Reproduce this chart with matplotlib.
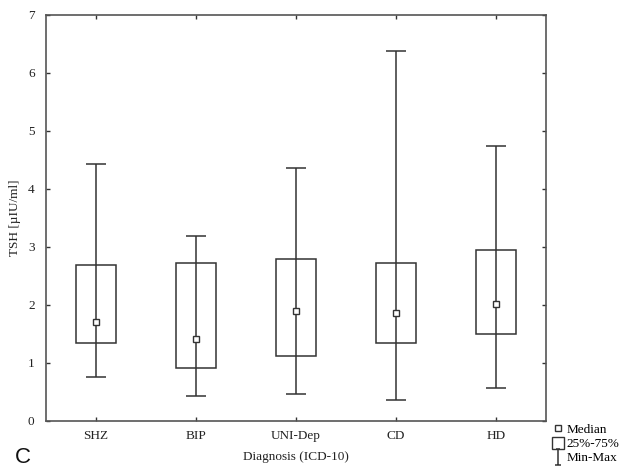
import numpy as np
import matplotlib
matplotlib.use("Agg")
import matplotlib.pyplot as plt
from matplotlib.lines import Line2D
from matplotlib.path import Path

# ---------------------------------------------------------------------------
# Data
# ---------------------------------------------------------------------------
groups = ["SHZ", "BIP", "UNI-Dep", "CD", "HD"]
tsh_min = [0.75, 0.42, 0.46, 0.35, 0.56]
tsh_q1 = [1.34, 0.90, 1.11, 1.33, 1.50]
tsh_median = [1.70, 1.41, 1.89, 1.85, 2.01]
tsh_q3 = [2.68, 2.72, 2.78, 2.71, 2.94]
tsh_max = [4.43, 3.18, 4.35, 6.37, 4.73]

INK = "#333333"
FRAME = "#555555"
TXT = "#222222"
FS = 9.5

plt.rcParams["font.family"] = ["Liberation Serif", "DejaVu Serif"]

fig = plt.figure(figsize=(6.33, 4.69), dpi=100)
ax = fig.add_axes([0.0722, 0.1034, 0.7904, 0.8653])

x = np.arange(len(groups))

# whiskers run straight through the box, min to max
ax.vlines(x, tsh_min, tsh_max, color=INK, lw=1.1, zorder=2)
ax.hlines(tsh_min, x - 0.1, x + 0.1, color=INK, lw=1.1, zorder=2)
ax.hlines(tsh_max, x - 0.1, x + 0.1, color=INK, lw=1.1, zorder=2)

# 25%-75% boxes
q1 = np.array(tsh_q1)
q3 = np.array(tsh_q3)
ax.bar(x, q3 - q1, bottom=q1, width=0.4, facecolor="none",
       edgecolor=INK, lw=1.1, zorder=3)

# medians
ax.plot(x, tsh_median, ls="none", marker="s", ms=4.2, mfc="white",
        mec=INK, mew=1.0, zorder=4)

ax.set_xlim(-0.5, 4.5)
ax.set_ylim(0, 7)
ax.set_xticks(x)
ax.set_xticklabels(groups)
ax.set_yticks(range(0, 8))

ax.tick_params(direction="in", length=3, width=1, color=INK,
               top=True, right=True, labelsize=FS, labelcolor=TXT)
ax.tick_params(axis="y", pad=8)
ax.tick_params(axis="x", pad=7)
for sp in ax.spines.values():
    sp.set_color(FRAME)
    sp.set_linewidth(1.2)

ax.set_ylabel("TSH [µIU/ml]", fontsize=FS, color=TXT)
ax.yaxis.set_label_coords(-0.049, 0.5)
ax.set_xlabel("Diagnosis (ICD-10)", fontsize=FS, color=TXT, labelpad=6)

# legend outside the plot, lower right
minmax = Path([(-0.45, -1), (0.45, -1), (0, -1), (0, 1), (-0.25, 1), (0.25, 1)],
              [Path.MOVETO, Path.LINETO, Path.MOVETO, Path.LINETO,
               Path.MOVETO, Path.LINETO])
handles = [
    Line2D([], [], ls="none", marker="s", ms=4, mfc="white", mec=INK, mew=1.0),
    Line2D([], [], ls="none", marker="s", ms=9, mfc="white", mec=INK, mew=1.0),
    Line2D([], [], ls="none", marker=minmax, ms=11, mfc="none", mec=INK, mew=1.1),
]
fig.legend(handles, ["Median", "25%-75%", "Min-Max"], loc="lower left",
           bbox_to_anchor=(0.858, -0.01), frameon=False, fontsize=FS,
           handlelength=0.8, handletextpad=0.3, labelspacing=0.15,
           borderpad=0.2)

fig.text(0.024, 0.003, "C", fontsize=16, family="Liberation Sans",
         color="#111111", ha="left", va="bottom")

fig.savefig("out.png", dpi=100)
